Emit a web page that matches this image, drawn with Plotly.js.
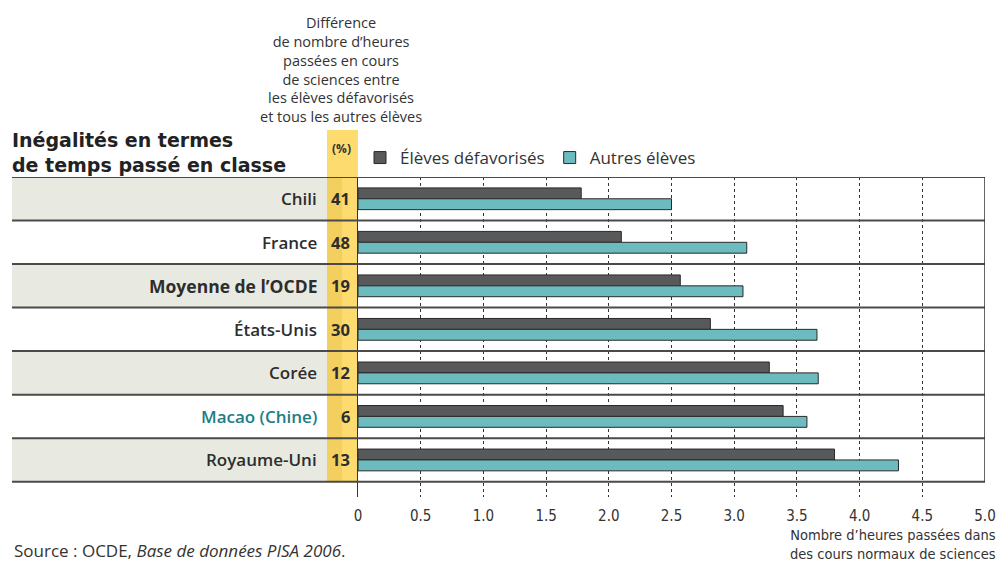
<!DOCTYPE html>
<html>
<head>
<meta charset="utf-8">
<script src="https://cdn.plot.ly/plotly-3.0.1.min.js"></script>
<style>html,body{margin:0;padding:0;background:#fff;}#chart{width:998px;height:561px;}</style>
</head>
<body>
<div id="chart"></div>
<script>
// ---- data ----
const countries = ['Chili', 'France', 'Moyenne de l’OCDE', 'États-Unis', 'Corée', 'Macao (Chine)', 'Royaume-Uni'];
const differencePct = [41, 48, 19, 30, 12, 6, 13];
const heuresDefavorises = [1.78, 2.10, 2.57, 2.81, 3.28, 3.39, 3.80];
const heuresAutres = [2.50, 3.10, 3.07, 3.66, 3.67, 3.58, 4.31];
const xTickValues = [0, 0.5, 1.0, 1.5, 2.0, 2.5, 3.0, 3.5, 4.0, 4.5, 5.0];
const xTickLabels = ['0', '0.5', '1.0', '1.5', '2.0', '2.5', '3.0', '3.5', '4.0', '4.5', '5.0'];
const seriesNames = ['Élèves défavorisés', 'Autres élèves'];

// ---- geometry (pixels of the 998x561 canvas) ----
const W = 998, H = 561;
const plotL = 358, plotR = 985, plotT = 177, plotB = 497;
const rowH = 43.53;
const pw = plotR - plotL, ph = plotB - plotT;
const px2x = p => (p - plotL) / pw;          // pixel x -> paper x
const py2y = p => (plotB - p) / ph;          // pixel y -> paper y
const yBottomVal = -0.5 + ph / rowH;          // bottom of range in category units

const narrow = 'Liberation Sans Narrow, DejaVu Sans Condensed, Open Sans, sans-serif';
const main = 'Open Sans, Noto Sans, sans-serif';

const traces = [
  {
    type: 'bar', orientation: 'h', name: seriesNames[0],
    y: countries, x: heuresDefavorises,
    marker: {color: '#58595b', line: {color: '#2a2a2a', width: 1}},
    hoverinfo: 'x+y'
  },
  {
    type: 'bar', orientation: 'h', name: seriesNames[1],
    y: countries, x: heuresAutres,
    marker: {color: '#6bbbbf', line: {color: '#2a2a2a', width: 1}},
    hoverinfo: 'x+y'
  }
];

const shapes = [];
// alternating row backgrounds in the label area
countries.forEach((c, i) => {
  if (i % 2 === 0) {
    shapes.push({type: 'rect', layer: 'below', xref: 'paper', yref: 'y',
      x0: px2x(12), x1: 0, y0: i - 0.5, y1: i + 0.5,
      fillcolor: '#e8eae1', line: {width: 0}});
  }
});
// yellow column
shapes.push({type: 'rect', layer: 'below', xref: 'paper', yref: 'paper',
  x0: px2x(327), x1: 0, y0: py2y(482), y1: py2y(130),
  fillcolor: '#fddb6e', line: {width: 0}});
shapes.push({type: 'rect', layer: 'below', xref: 'paper', yref: 'paper',
  x0: px2x(327), x1: px2x(342), y0: py2y(482), y1: py2y(177),
  fillcolor: '#f3cf5f', line: {width: 0}});
// row separator lines
for (let i = 0; i <= countries.length; i++) {
  shapes.push({type: 'line', layer: 'above', xref: 'paper', yref: 'y',
    x0: px2x(12), x1: 1, y0: i - 0.5, y1: i - 0.5,
    line: {color: '#4a4a4a', width: 2}});
}
// right frame line at 5.0
shapes.push({type: 'line', layer: 'above', xref: 'x', yref: 'y',
  x0: 5, x1: 5, y0: -0.5, y1: countries.length - 0.5,
  line: {color: '#333', width: 1.5}});

const annotations = [];
countries.forEach((c, i) => {
  const isAvg = i === 2, isMacao = i === 5;
  annotations.push({xref: 'paper', yref: 'y', x: px2x(319), y: i,
    xanchor: 'right', yanchor: 'middle', showarrow: false, text: c,
    font: {family: main, size: isAvg ? 17.5 : 17, weight: isAvg ? 700 : 600, color: isMacao ? '#1b7e84' : '#2d2d2d'}});
  annotations.push({xref: 'paper', yref: 'y', x: px2x(352), y: i,
    xanchor: 'right', yanchor: 'middle', showarrow: false, text: String(differencePct[i]),
    font: {family: main, size: 16.5, weight: 700, color: '#2d2d2d'}});
});
// column header
annotations.push({xref: 'paper', yref: 'paper', x: px2x(341), y: py2y(69),
  xanchor: 'center', yanchor: 'middle', showarrow: false, align: 'center',
  text: 'Différence<br>de nombre d’heures<br>passées en cours<br>de sciences entre<br>les élèves défavorisés<br>et tous les autres élèves',
  font: {family: main, size: 14.5, color: '#333'}});
annotations.push({xref: 'paper', yref: 'paper', x: px2x(341), y: py2y(148),
  xanchor: 'center', yanchor: 'middle', showarrow: false, text: '(%)',
  font: {family: main, size: 12, weight: 700, color: '#333'}});
// x axis title (right)
annotations.push({xref: 'paper', yref: 'paper', x: px2x(998), y: py2y(544),
  xanchor: 'right', yanchor: 'middle', showarrow: false, align: 'right',
  text: 'Nombre d’heures passées dans<br>des cours normaux de sciences',
  font: {family: narrow, size: 14.5, color: '#333'}});
// source
annotations.push({xref: 'paper', yref: 'paper', x: px2x(12), y: py2y(550),
  xanchor: 'left', yanchor: 'middle', showarrow: false, align: 'left',
  text: 'Source : OCDE, <i>Base de données PISA 2006</i>.',
  font: {family: main, size: 17, weight: 400, color: '#333'}});

const layout = {
  width: W, height: H,
  margin: {l: plotL, r: W - plotR, t: plotT, b: H - plotB, pad: 0},
  paper_bgcolor: '#fff', plot_bgcolor: 'rgba(0,0,0,0)',
  font: {family: main, color: '#333'},
  title: {
    text: 'Inégalités en termes<br>de temps passé en classe',
    x: 12 / W, xanchor: 'left', xref: 'container',
    y: 1 - 147 / H, yanchor: 'middle', yref: 'container',
    font: {family: 'DejaVu Sans, Open Sans, sans-serif', size: 19, weight: 700, color: '#222'}
  },
  barmode: 'group', bargap: 0.5, bargroupgap: 0,
  xaxis: {
    range: [0, 5], tickvals: xTickValues, ticktext: xTickLabels,
    showgrid: true, gridcolor: '#333', gridwidth: 1, griddash: '3px,3px',
    zeroline: false, showline: false, ticks: '',
    tickfont: {family: narrow, size: 15, color: '#333'},
    ticklabelstandoff: 8, fixedrange: true
  },
  yaxis: {
    type: 'category', categoryorder: 'array', categoryarray: countries,
    range: [yBottomVal, -0.5], showticklabels: false, ticks: '',
    showgrid: false, zeroline: false,
    showline: true, linecolor: '#333', linewidth: 1, fixedrange: true
  },
  showlegend: true,
  legend: {
    orientation: 'h', x: px2x(360), xanchor: 'left', y: py2y(158), yanchor: 'middle',
    font: {family: main, size: 17, color: '#333'}, bgcolor: 'rgba(0,0,0,0)',
    traceorder: 'normal', itemclick: false, itemdoubleclick: false
  },
  shapes: shapes,
  annotations: annotations
};

Plotly.newPlot('chart', traces, layout, {displayModeBar: false, staticPlot: true});
</script>
</body>
</html>
